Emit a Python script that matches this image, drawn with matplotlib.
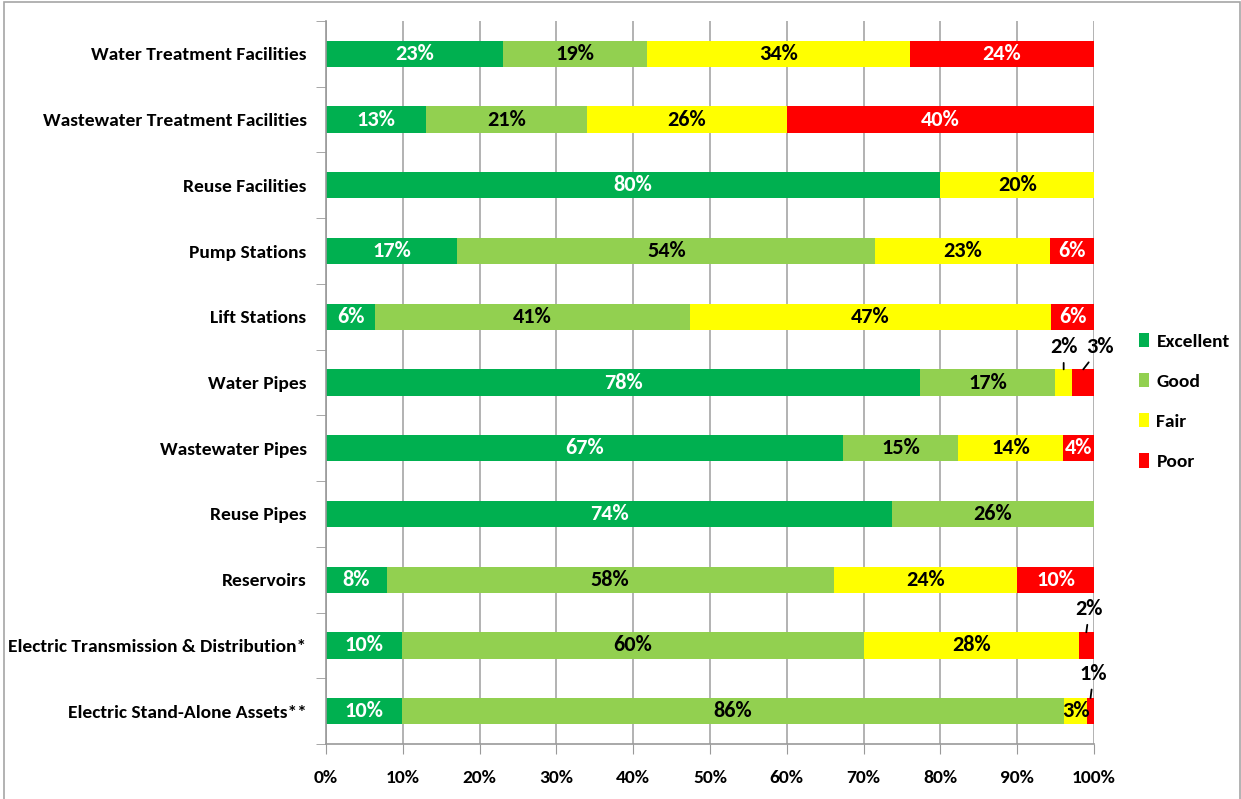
import matplotlib
matplotlib.use('Agg')
import matplotlib.pyplot as plt
from matplotlib.patches import Patch, Rectangle
import numpy as np

plt.rcParams['font.family'] = ['Carlito', 'Open Sans Condensed', 'DejaVu Sans']
plt.rcParams['font.weight'] = 'bold'

CATEGORIES = [
    "Water Treatment Facilities",
    "Wastewater Treatment Facilities",
    "Reuse Facilities",
    "Pump Stations",
    "Lift Stations",
    "Water Pipes",
    "Wastewater Pipes",
    "Reuse Pipes",
    "Reservoirs",
    "Electric Transmission & Distribution*",
    "Electric Stand-Alone Assets**",
]
SERIES = ["Excellent", "Good", "Fair", "Poor"]

excellent = [23.0, 13.0, 80.0, 17.1, 6.4, 77.4, 67.3, 73.7, 7.9, 9.9, 9.9]
good = [18.8, 21.0, 0.0, 54.4, 41.0, 17.5, 15.0, 26.3, 58.2, 60.1, 86.2]
fair = [34.2, 26.0, 20.0, 22.8, 47.0, 2.3, 13.7, 0.0, 23.9, 28.0, 3.0]
poor = [24.0, 40.0, 0.0, 5.7, 5.6, 2.8, 4.0, 0.0, 10.0, 2.0, 0.9]

# printed labels (as in the source table)
excellent_lbl = ["23%", "13%", "80%", "17%", "6%", "78%", "67%", "74%", "8%", "10%", "10%"]
good_lbl = ["19%", "21%", "", "54%", "41%", "17%", "15%", "26%", "58%", "60%", "86%"]
fair_lbl = ["34%", "26%", "20%", "23%", "47%", "2%", "14%", "", "24%", "28%", "3%"]
poor_lbl = ["24%", "40%", "", "6%", "6%", "3%", "4%", "", "10%", "2%", "1%"]

# labels placed above the bar with a leader line: (row, series index, dx px, dy px)
CALLOUTS = [(5, 2, 0, 22), (5, 3, 17, 22), (9, 3, 3, 23), (10, 3, 3, 24)]

COLORS = ["#00B050", "#92D050", "#FFFF00", "#FF0000"]
LABEL_COLORS = ["white", "black", "black", "white"]

values = [excellent, good, fair, poor]
labels = [excellent_lbl, good_lbl, fair_lbl, poor_lbl]

fig = plt.figure(figsize=(12.41, 7.99), dpi=100)
ax = fig.add_axes([326 / 1241, 1 - 744 / 799, 768 / 1241, 723 / 799])

y = np.arange(len(CATEGORIES))
left = np.zeros(len(CATEGORIES))
callout_set = {(r, s) for r, s, _, _ in CALLOUTS}
for s, (name, vals) in enumerate(zip(SERIES, values)):
    vals = np.array(vals)
    ax.barh(y, vals, left=left, height=0.4, color=COLORS[s], label=name, zorder=2)
    for i, v in enumerate(vals):
        txt = labels[s][i]
        if not txt or (i, s) in callout_set:
            continue
        ax.text(left[i] + v / 2, i, txt, ha='center', va='center',
                color=LABEL_COLORS[s], fontsize=16, fontweight='bold', zorder=3)
    left += vals

for r, s, dx, dy in CALLOUTS:
    start = sum(values[k][r] for k in range(s))
    xc = start + values[s][r] / 2
    ax.annotate(labels[s][r], xy=(xc, r - 0.2), xytext=(dx, dy),
                textcoords='offset pixels', ha='center', va='center',
                fontsize=16, fontweight='bold', color='black',
                arrowprops=dict(arrowstyle='-', color='black', lw=1.3,
                                shrinkA=2, shrinkB=0))

ax.set_xlim(0, 100)
ax.set_ylim(len(CATEGORIES) - 0.5, -0.5)
ax.set_xticks(np.arange(0, 101, 10))
ax.set_xticklabels([f"{t}%" for t in range(0, 101, 10)], fontsize=14, fontweight='bold')
ax.set_yticks(y)
ax.set_yticklabels(CATEGORIES, fontsize=14, fontweight='bold')
ax.set_yticks(np.arange(-0.5, len(CATEGORIES), 1), minor=True)
ax.tick_params(axis='y', which='major', length=0, pad=14)
ax.tick_params(axis='y', which='minor', length=7, color='#999999', direction='out')
ax.tick_params(axis='x', length=7, color='#999999', direction='out', pad=12)

ax.grid(axis='x', color='#a6a6a6', lw=1.2, zorder=0)
ax.set_axisbelow(True)
for side in ['top', 'right']:
    ax.spines[side].set_visible(False)
for side in ['left', 'bottom']:
    ax.spines[side].set_color('#999999')
    ax.spines[side].set_linewidth(1.2)

handles = [Patch(facecolor=c, edgecolor='none') for c in COLORS]
ax.legend(handles, SERIES, loc='center left', bbox_to_anchor=(1.058, 0.474),
          frameon=False, fontsize=14, handlelength=0.52, handleheight=0.77,
          handletextpad=0.4, labelspacing=1.19, borderpad=0, borderaxespad=0)

fig.patches.append(Rectangle((4 / 1241, -0.01), 1236 / 1241, 1.008,
                             transform=fig.transFigure, fill=False,
                             edgecolor='#a6a6a6', lw=1.2))

fig.savefig('out.png', dpi=100)
